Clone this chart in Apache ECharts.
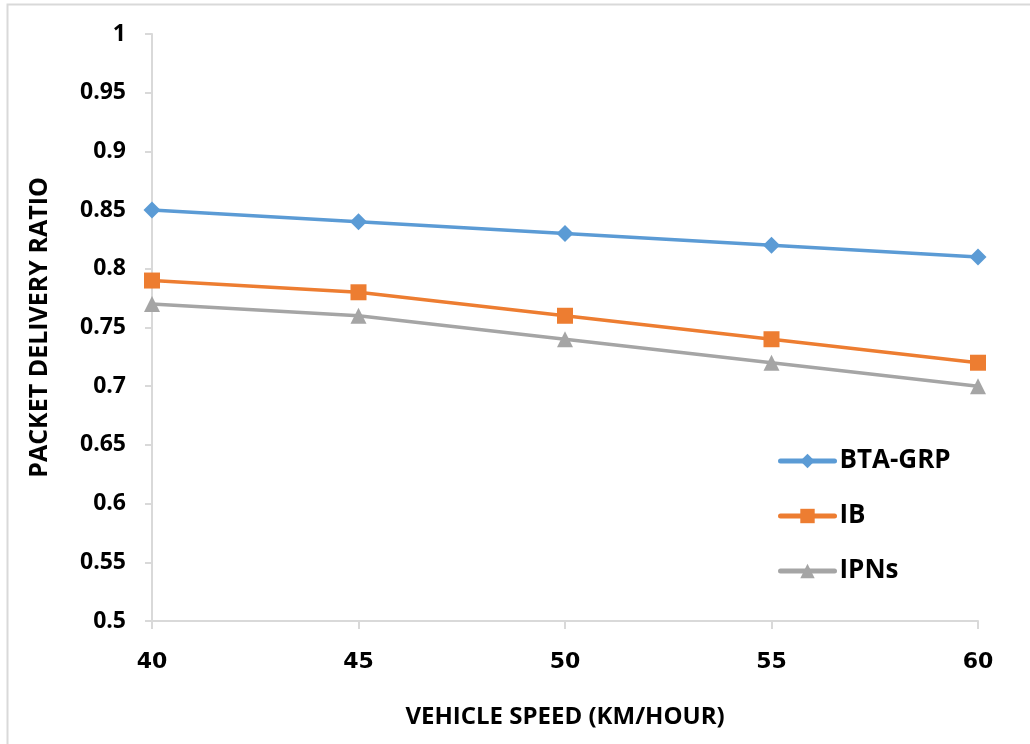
<!DOCTYPE html>
<html><head><meta charset="utf-8">
<script src="https://cdn.jsdelivr.net/npm/echarts@6/dist/echarts.min.js"></script>
<style>html,body{margin:0;padding:0;background:#fff}#c{width:1030px;height:744px}</style>
</head><body><div id="c"></div>
<script>
var categories = ['40','45','50','55','60'];
var btaGrp = [0.85,0.84,0.83,0.82,0.81];
var ib = [0.79,0.78,0.76,0.74,0.72];
var ipns = [0.77,0.76,0.74,0.72,0.70];
var seriesNames = ['BTA-GRP','IB','IPNs'];

var chart = echarts.init(document.getElementById('c'));
var font = '"Open Sans", "Noto Sans", sans-serif';
function mk(name, data, color, symbol, size) {
  return {name:name, type:'line', data:data, symbol:symbol, symbolSize:size,
    lineStyle:{color:color, width:3.5}, itemStyle:{color:color}, showSymbol:true, animation:false};
}
chart.setOption({
  animation:false,
  graphic:[{type:'rect', shape:{x:7.5,y:4.5,width:1100,height:800}, style:{fill:'none', stroke:'#d9d9d9', lineWidth:2}, silent:true}],
  grid:{left:152, right:52, top:34, bottom:123},
  legend:{orient:'vertical', left:773, top:442, itemWidth:54, itemHeight:18, itemGap:27,
    data:seriesNames,
    lineStyle:{width:5, cap:'round'},
    textStyle:{fontFamily:font, fontWeight:'bold', fontSize:26, color:'#000', lineHeight:28}},
  xAxis:{type:'category', data:categories, boundaryGap:false,
    name:'VEHICLE SPEED (KM/HOUR)', nameLocation:'middle', nameGap:84,
    nameTextStyle:{fontFamily:font, fontWeight:'bold', fontSize:24, color:'#000'},
    axisLine:{lineStyle:{color:'#d9d9d9', width:2}},
    axisTick:{show:true, length:8, alignWithLabel:true, lineStyle:{color:'#d9d9d9', width:2}},
    axisLabel:{fontFamily:'"DejaVu Sans", sans-serif', fontWeight:'bold', fontSize:22, color:'#000', margin:30},
    splitLine:{show:false}},
  yAxis:{type:'value', min:0.5, max:1, interval:0.05,
    name:'PACKET DELIVERY RATIO', nameLocation:'middle', nameGap:100, nameRotate:90,
    nameTextStyle:{fontFamily:font, fontWeight:'bold', fontSize:25, color:'#000'},
    axisLine:{show:true, lineStyle:{color:'#d9d9d9', width:2}},
    axisTick:{show:true, length:7, lineStyle:{color:'#d9d9d9', width:2}},
    axisLabel:{fontFamily:font, fontWeight:'bold', fontSize:23, color:'#000', margin:26,
      formatter:function(v){return String(parseFloat(v.toFixed(2)));}},
    splitLine:{show:false}},
  series:[
    mk(seriesNames[0], btaGrp, '#5B9BD5', 'diamond', 17),
    mk(seriesNames[1], ib, '#ED7D31', 'rect', 16),
    mk(seriesNames[2], ipns, '#A5A5A5', 'triangle', 16)
  ]
});
</script></body></html>
